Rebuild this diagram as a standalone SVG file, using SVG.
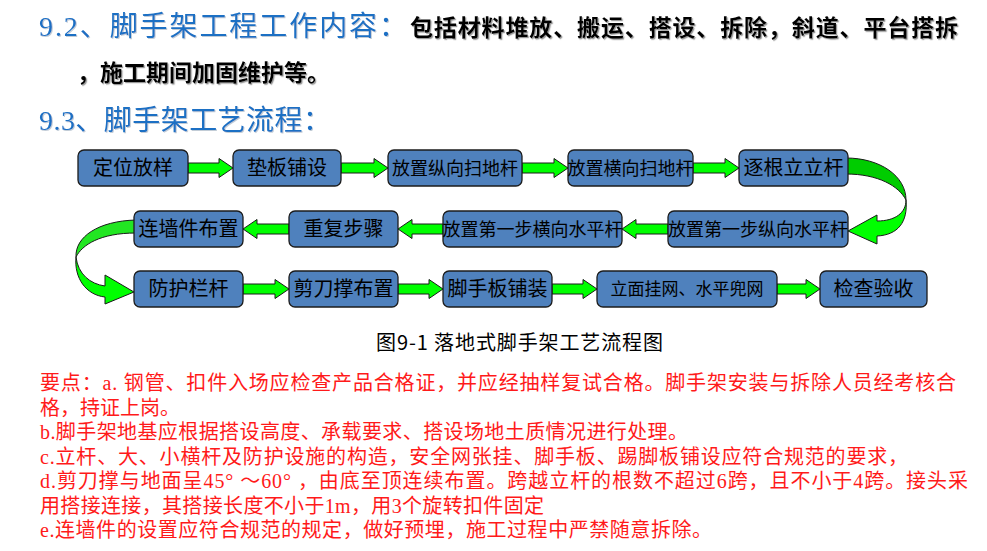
<svg xmlns="http://www.w3.org/2000/svg" width="987" height="551" viewBox="0 0 987 551">
<defs>
<filter id="sh" x="-5%" y="-20%" width="110%" height="150%">
<feDropShadow dx="1.2" dy="1.2" stdDeviation="0.6" flood-color="#808080" flood-opacity="0.8"/>
</filter>
<filter id="shl" x="-5%" y="-20%" width="110%" height="150%">
<feDropShadow dx="1" dy="1" stdDeviation="0.6" flood-color="#9ab" flood-opacity="0.6"/>
</filter>
</defs>
<style>
.h{font-family:"Liberation Serif","Noto Sans CJK SC",serif;font-size:28px;fill:#1b6fc4}
.k{font-family:"Liberation Serif","Noto Sans CJK SC",serif;font-size:23px;font-weight:bold;fill:#000}
.box rect{fill:#4f81bd;stroke:#1c1c1c;stroke-width:1.3}
.box text{font-family:"Noto Sans CJK SC",sans-serif;fill:#000;text-anchor:middle}
.t20{font-size:20px}
.t18{font-size:18px}
.t17{font-size:17px}
.ar{fill:#00ff00;stroke:#1a1a1a;stroke-width:1}
.ard{fill:#00cc00;stroke:#1a1a1a;stroke-width:1}
.cap{font-family:"Noto Sans CJK SC",sans-serif;font-size:20px;fill:#000}
.r{font-family:"Liberation Serif","Noto Sans CJK SC",serif;font-size:20px;fill:#ff1a1a}
</style>
<rect width="987" height="551" fill="#fff"/>
<g id="titles">
<text class="h" x="39" y="36" filter="url(#shl)" textLength="368" lengthAdjust="spacing">9.2、脚手架工程工作内容：</text>
<text class="k" x="410" y="36" filter="url(#sh)" textLength="548" lengthAdjust="spacing">包括材料堆放、搬运、搭设、拆除，斜道、平台搭拆</text>
<text class="k" x="77" y="81" filter="url(#sh)" textLength="253" lengthAdjust="spacing">，施工期间加固维护等。</text>
<text class="h" x="39" y="130" filter="url(#shl)" textLength="292" lengthAdjust="spacing">9.3、脚手架工艺流程：</text>
</g>
<g id="connectors">
<path class="ar" d="M188,163 H219 V158.5 L233,168 L219,177.5 V173 H188 Z"/>
<path class="ar" d="M341,163 H374 V158.5 L388,168 L374,177.5 V173 H341 Z"/>
<path class="ar" d="M522,163 H554 V158.5 L568,168 L554,177.5 V173 H522 Z"/>
<path class="ar" d="M693,163 H725 V158.5 L739,168 L725,177.5 V173 H693 Z"/>
<path class="ar" d="M668,224 H636 V219.5 L622,229 L636,238.5 V234 H668 Z"/>
<path class="ar" d="M443,224 H412 V219.5 L398,229 L412,238.5 V234 H443 Z"/>
<path class="ar" d="M289,224 H257 V219.5 L243,229 L257,238.5 V234 H289 Z"/>
<path class="ar" d="M243,284 H275 V279.5 L289,289 L275,298.5 V294 H243 Z"/>
<path class="ar" d="M398,284 H429 V279.5 L443,289 L429,298.5 V294 H398 Z"/>
<path class="ar" d="M552,284 H583 V279.5 L597,289 L583,298.5 V294 H552 Z"/>
<path class="ar" d="M777,284 H806 V279.5 L820,289 L806,298.5 V294 H777 Z"/>
<path class="ard" d="M846,158 C880,158 906,176 906,200 C899,186 878,174 846,174 Z"/>
<path class="ar" d="M906,200 C906,213 895,221 877,221 L877,215 L848,231 L877,244 L877,236 C898,235 908,222 906,200 Z"/>
<path class="ard" d="M136,220 C98,221 75,237 76,257 C82,245 100,233 136,233 Z" style="fill:#22e622"/>
<path class="ar" d="M76,257 C78,274 90,284 105,286 L105,275 L134,292 L105,304 L105,297 C86,295 74,278 76,257 Z"/>
</g>
<g id="n1" class="box"><rect x="78" y="150" width="110" height="36" rx="6"/><text class="t20" x="133" y="175">定位放样</text></g>
<g id="n2" class="box"><rect x="233" y="150" width="108" height="36" rx="6"/><text class="t20" x="287" y="175">垫板铺设</text></g>
<g id="n3" class="box"><rect x="388" y="150" width="134" height="36" rx="6"/><text class="t18" x="455" y="174.5">放置纵向扫地杆</text></g>
<g id="n4" class="box"><rect x="568" y="150" width="125" height="36" rx="6"/><text class="t18" x="630.5" y="174.5">放置横向扫地杆</text></g>
<g id="n5" class="box"><rect x="739" y="150" width="109" height="36" rx="6"/><text class="t20" x="793.5" y="175">逐根立立杆</text></g>
<g id="n6" class="box"><rect x="668" y="211" width="180" height="36" rx="6"/><text class="t18" x="758" y="235.5">放置第一步纵向水平杆</text></g>
<g id="n7" class="box"><rect x="443" y="211" width="179" height="36" rx="6"/><text class="t18" x="532.5" y="235.5">放置第一步横向水平杆</text></g>
<g id="n8" class="box"><rect x="289" y="211" width="109" height="36" rx="6"/><text class="t20" x="343.5" y="236">重复步骤</text></g>
<g id="n9" class="box"><rect x="134" y="211" width="109" height="36" rx="6"/><text class="t20" x="188.5" y="236">连墙件布置</text></g>
<g id="n10" class="box"><rect x="134" y="271" width="109" height="36" rx="6"/><text class="t20" x="188.5" y="296">防护栏杆</text></g>
<g id="n11" class="box"><rect x="289" y="271" width="109" height="36" rx="6"/><text class="t20" x="343.5" y="296">剪刀撑布置</text></g>
<g id="n12" class="box"><rect x="443" y="271" width="109" height="36" rx="6"/><text class="t20" x="497.5" y="296">脚手板铺装</text></g>
<g id="n13" class="box"><rect x="597" y="271" width="180" height="36" rx="6"/><text class="t17" x="687" y="295">立面挂网、水平兜网</text></g>
<g id="n14" class="box"><rect x="820" y="271" width="107" height="36" rx="6"/><text class="t20" x="873.5" y="296">检查验收</text></g>
<g id="caption">
<text class="cap" x="376" y="350" textLength="287" lengthAdjust="spacing">图9-1 落地式脚手架工艺流程图</text>
</g>
<g id="notes">
<text class="r" x="40" y="390" textLength="916" lengthAdjust="spacing">要点：a. 钢管、扣件入场应检查产品合格证，并应经抽样复试合格。脚手架安装与拆除人员经考核合</text>
<text class="r" x="40" y="414.5">格，持证上岗。</text>
<text class="r" x="40" y="439" textLength="648" lengthAdjust="spacing">b.脚手架地基应根据搭设高度、承载要求、搭设场地土质情况进行处理。</text>
<text class="r" x="40" y="463.5" textLength="868" lengthAdjust="spacing">c.立杆、大、小横杆及防护设施的构造，安全网张挂、脚手板、踢脚板铺设应符合规范的要求，</text>
<text class="r" x="40" y="488" textLength="928" lengthAdjust="spacing">d.剪刀撑与地面呈45° ～60° ，由底至顶连续布置。跨越立杆的根数不超过6跨，且不小于4跨。接头采</text>
<text class="r" x="40" y="512.5" textLength="504" lengthAdjust="spacing">用搭接连接，其搭接长度不小于1m，用3个旋转扣件固定</text>
<text class="r" x="40" y="537" textLength="672" lengthAdjust="spacing">e.连墙件的设置应符合规范的规定，做好预埋，施工过程中严禁随意拆除。</text>
</g>
</svg>
